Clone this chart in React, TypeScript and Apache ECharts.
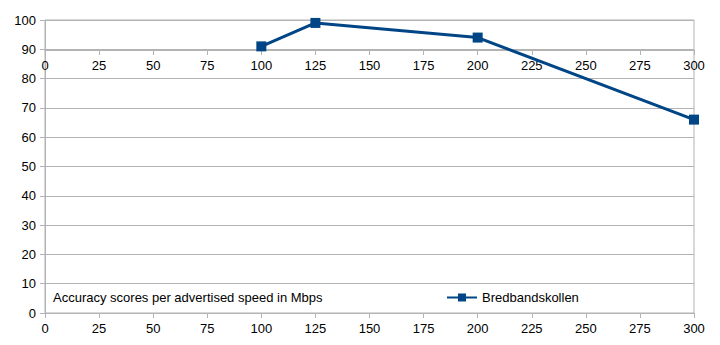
import React, { useEffect, useRef } from "react";
import * as echarts from "echarts";

const speeds: number[] = [100, 125, 200, 300];
const scores: number[] = [91, 99, 94, 66];
const seriesName = "Bredbandskollen";
const chartTitle = "Accuracy scores per advertised speed in Mbps";

export default function App() {
  const ref = useRef<HTMLDivElement>(null);
  useEffect(() => {
    if (!ref.current) return;
    const chart = echarts.init(ref.current, undefined, { renderer: "svg" });
    const gray = "#b3b3b3";
    const font = "'Liberation Sans', Arial, sans-serif";
    const labelStyle = { color: "#000", fontSize: 13, fontFamily: font };
    const xCommon = {
      type: "value" as const,
      min: 0,
      max: 300,
      interval: 25,
      axisLine: { show: true, lineStyle: { color: gray, width: 1 } },
      axisTick: { show: true, length: 5, lineStyle: { color: gray } },
      splitLine: { show: false },
      axisLabel: { ...labelStyle, margin: 9 },
    };
    chart.setOption({
      animation: false,
      textStyle: { fontFamily: font },
      title: {
        text: chartTitle,
        left: 48,
        top: 286,
        textStyle: { color: "#000", fontSize: 13, fontWeight: "normal", fontFamily: font },
      },
      legend: {
        left: 441,
        top: 286,
        itemWidth: 30,
        itemHeight: 10,
        itemGap: 5,
        textStyle: { color: "#000", fontSize: 13, fontFamily: font, padding: [0, 0, 0, 0] },
        data: [seriesName],
      },
      grid: [
        { left: 45, right: 26, top: 20, bottom: 32, show: true, borderColor: gray, borderWidth: 1, containLabel: false },
        { left: 45, right: 26, top: 20, height: 30, show: false, containLabel: false },
      ],
      xAxis: [
        { ...xCommon, gridIndex: 0, position: "bottom" },
        { ...xCommon, gridIndex: 1, position: "bottom" },
      ],
      yAxis: [
        {
          type: "value",
          gridIndex: 0,
          min: 0,
          max: 100,
          interval: 10,
          axisLine: { show: true, lineStyle: { color: gray } },
          axisTick: { show: true, length: 5, lineStyle: { color: gray } },
          splitLine: { show: true, lineStyle: { color: gray, width: 1 } },
          axisLabel: { ...labelStyle, margin: 9 },
        },
        { type: "value", gridIndex: 1, show: false, min: 0, max: 1 },
      ],
      series: [
        {
          name: seriesName,
          type: "line",
          xAxisIndex: 0,
          yAxisIndex: 0,
          data: speeds.map((s, i) => [s, scores[i]]),
          color: "#004586",
          lineStyle: { color: "#004586", width: 3 },
          itemStyle: { color: "#004586" },
          symbol: "rect",
          symbolSize: 10,
          showSymbol: true,
          z: 5,
        },
      ],
    });
    return () => chart.dispose();
  }, []);
  return (
    <div
      ref={ref}
      style={{ position: "fixed", left: 0, top: 0, width: 720, height: 345, background: "#fff" }}
    />
  );
}
